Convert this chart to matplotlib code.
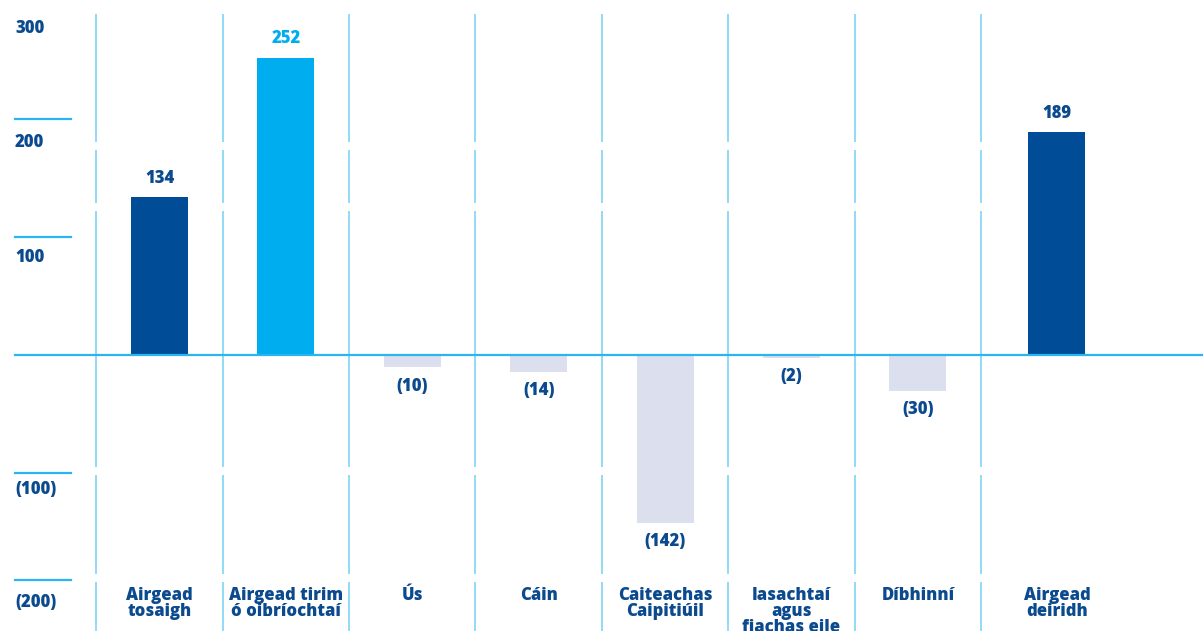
import numpy as np
import matplotlib.pyplot as plt
from matplotlib import font_manager

plt.rcParams['font.family'] = ['Open Sans', 'DejaVu Sans']

categories = ['Airgead\ntosaigh', 'Airgead tirim\nó oibríochtaí', 'Ús', 'Cáin',
              'Caiteachas\nCaipitiúil', 'Iasachtaí\nagus\nfiachas eile',
              'Díbhinní', 'Airgead\ndeiridh']
values = [134, 252, -10, -14, -142, -2, -30, 189]
value_labels = ['134', '252', '(10)', '(14)', '(142)', '(2)', '(30)', '189']
tick_values = [300, 200, 100, -100, -200]
tick_labels = ['300', '200', '100', '(100)', '(200)']

navy = '#004C97'
cyan = '#00AEEF'
lav = '#DCDFEE'
text_col = '#0B4A8E'
grid_col = '#7FD4F5'
zero_col = '#2BB5EE'

bar_colors = [navy, cyan] + [lav] * 5 + [navy]
label_colors = [text_col, cyan] + [text_col] * 6

# heaviest Open Sans available
weights = [f.weight for f in font_manager.fontManager.ttflist if f.name == 'Open Sans']
heavy = max([w for w in weights if isinstance(w, int)] or [700])
fw = min(heavy, 800)

fig = plt.figure(figsize=(12.03, 6.31), dpi=100)
ax = fig.add_axes([0, 0, 1, 1])
ax.set_xlim(-1.262, 8.256)
ax.set_ylim(-233.5, 301)
ax.axis('off')

x = np.arange(len(categories), dtype=float)
bar_x = x.copy()
bar_x[-1] += 0.1  # last column sits a little right in the original

# vertical separators with small gaps
gaps = [177, 126, -98, -189]
half = 3.4
edges = [289]
for g in gaps:
    edges += [g + half, g - half]
edges.append(-240)
for i in x:
    for top, bot in zip(edges[0::2], edges[1::2]):
        ax.plot([i - 0.5, i - 0.5], [bot, top], color=grid_col, lw=1.2,
                solid_capstyle='butt', zorder=1)

ax.bar(bar_x, values, width=0.45, color=bar_colors, zorder=2)

# zero line
ax.plot([-1.143, 8.3], [0, 0], color=zero_col, lw=1.6, zorder=3)

# left tick marks and labels
tick_line_pos = [None, 200, 100, -100, -190]
label_off = [-27, -23, -20, -16, -23]
for tl, tv, lp, off in zip(tick_labels, tick_values, tick_line_pos, label_off):
    if lp is not None:
        ax.plot([-1.143, -0.700], [lp, lp], color=zero_col, lw=1.6, zorder=3)
        ypos = lp
    else:
        ypos = tv
    ax.annotate(tl, (-1.143, ypos), xytext=(0, off), textcoords='offset pixels',
                ha='left', va='center', fontsize=12, fontweight=fw,
                color=text_col)

# value labels
for i, v in enumerate(values):
    off = 19 if v > 0 else -19
    ax.annotate(value_labels[i], (bar_x[i], v), xytext=(0, off),
                textcoords='offset pixels', ha='center', va='center',
                fontsize=12, fontweight=fw, color=label_colors[i])

# category labels
for i, c in enumerate(categories):
    ax.text(bar_x[i], -196, c, ha='center', va='top', fontsize=12,
            fontweight=fw, color=text_col, linespacing=0.92)

fig.savefig('out.png', dpi=100)
